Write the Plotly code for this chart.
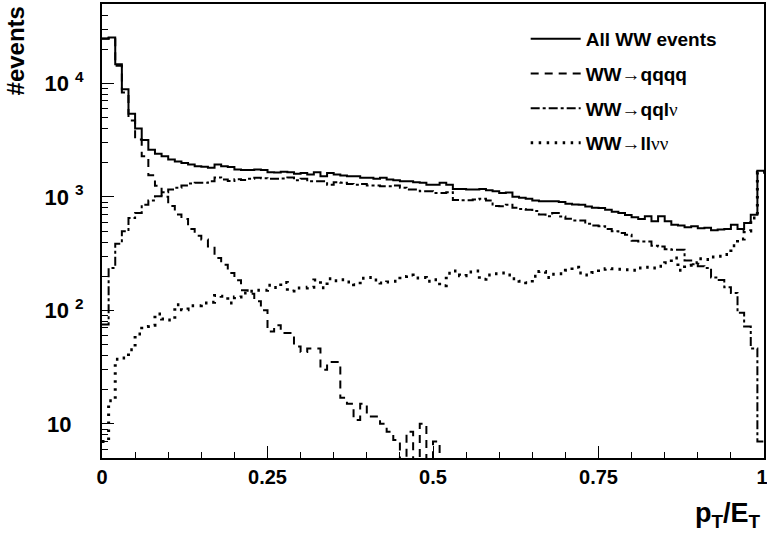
import numpy as np
import plotly.graph_objects as go

# ---------------- data (100 bins, 0..1) ----------------
n_bins = 100
bin_edges = np.linspace(0.0, 1.0, n_bins + 1)

all_ww = [24800, 25300, 14700, 8850, 5400, 3990, 3160, 2600, 2400, 2280,
          2130, 2050, 1990, 1930, 1860, 1840, 1800, 1930, 1860, 1830,
          1740, 1720, 1720, 1740, 1720, 1650, 1640, 1660, 1650, 1600,
          1625, 1570, 1650, 1520, 1625, 1570, 1545, 1520, 1520, 1470,
          1470, 1440, 1470, 1420, 1400, 1370, 1370, 1345, 1330, 1280,
          1280, 1330, 1280, 1175, 1175, 1160, 1160, 1175, 1140, 1120,
          1083, 1090, 1000, 980, 960, 930, 914, 914, 914, 900,
          870, 855, 850, 820, 800, 799, 770, 740, 722, 690,
          660, 639, 674, 610, 674, 610, 569, 560, 540, 550,
          530, 535, 507, 515, 520, 569, 520, 589, 697, 1700]

ww_qqqq = [24700, 25050, 14280, 8315, 4700, 3200, 2280, 1550, 1250, 1000,
           830, 700, 639, 521, 455, 420, 366, 289, 252, 213,
           184, 150, 140, 120, 100, 65, 74, 63, 63, 48,
           43, 46, 46, 30, 35, 35, 17, 15, 10.8, 15,
           11.6, 11.6, 10, 8.5, 7.2, 1, 8.5, 1, 10, 1,
           7, 1] + [None] * 48

ww_qqlv = [75, 236, 386, 497, 650, 720, 850, 930, 1010, 1100,
           1160, 1200, 1260, 1310, 1330, 1330, 1370, 1480, 1420, 1380,
           1430, 1410, 1440, 1470, 1460, 1440, 1440, 1450, 1480, 1400,
           1440, 1370, 1370, 1370, 1280, 1345, 1330, 1300, 1280, 1300,
           1260, 1260, 1240, 1240, 1260, 1200, 1160, 1160, 1120, 1120,
           1083, 1083, 1100, 940, 933, 933, 946, 960, 930, 830,
           826, 850, 800, 780, 770, 750, 700, 674, 720, 670,
           640, 620, 620, 580, 560, 550, 520, 497, 480, 464,
           410, 405, 405, 370, 366, 345, 342, 342, 275, 255,
           245, 236, 195, 185, 160, 142, 95, 72, 46, 7]

ww_llvv = [7, 16, 37, 38, 45, 62, 72, 74, 93, 84,
           82, 112, 101, 110, 110, 116, 118, 135, 133, 116,
           131, 142, 147, 150, 150, 166, 159, 176, 148, 157,
           157, 160, 185, 158, 190, 182, 186, 178, 168, 192,
           195, 185, 174, 178, 180, 199, 205, 193, 195, 180,
           186, 165, 212, 222, 202, 218, 222, 188, 205, 210,
           213, 205, 190, 180, 175, 200, 220, 195, 208, 210,
           225, 240, 213, 205, 215, 230, 233, 232, 230, 228,
           225, 236, 240, 236, 245, 262, 289, 225, 250, 262,
           285, 280, 295, 300, 310, 370, 425, 500, 650, 1650]

SYM = "<span style=\"font-family:'Liberation Serif';font-weight:normal\">"
series_names = [
    "All WW events",
    "WW" + SYM + "\u2192</span>qqqq",
    "WW" + SYM + "\u2192</span>qql" + SYM + "\u03bd</span>",
    "WW" + SYM + "\u2192</span>ll" + SYM + "\u03bd\u03bd</span>",
]

x_tick_vals = [0, 0.25, 0.5, 0.75, 1]
x_tick_text = ["0", "0.25", "0.5", "0.75", "1\u2009"]
x_minor_vals = [0.05, 0.1, 0.15, 0.2, 0.3, 0.35, 0.4, 0.45, 0.55, 0.6, 0.65, 0.7,
                0.8, 0.85, 0.9, 0.95]
y_tick_vals = [10, 100, 1000, 10000]
y_tick_text = ["10\u00a0\u00a0", "10 <sup>2</sup>", "10 <sup>3</sup>", "10 <sup>4</sup>"]
y_minor_vals = [6, 7, 8, 9, 20, 30, 40, 50, 60, 70, 80, 90,
                200, 300, 400, 500, 600, 700, 800, 900,
                2000, 3000, 4000, 5000, 6000, 7000, 8000, 9000,
                20000, 30000, 40000]

FONT = "Liberation Sans"

def step_y(vals):
    return list(vals) + [vals[-1]]

fig = go.Figure()
dashes = ["solid", "8px,6px", "9px,3px,3px,3px", "2.5px,5.5px"]
widths = [2, 2, 2, 3]
for name, vals, dash, w in zip(series_names, [all_ww, ww_qqqq, ww_qqlv, ww_llvv], dashes, widths):
    fig.add_trace(go.Scatter(
        x=bin_edges, y=step_y(vals), mode="lines", name=name,
        line=dict(color="black", width=w, shape="hv", dash=dash, simplify=False),
        legendgroup=name, connectgaps=False, hoverinfo="skip",
    ))

fig.update_layout(
    width=767, height=535,
    margin=dict(l=102, r=3, t=4, b=77, autoexpand=False),
    plot_bgcolor="white", paper_bgcolor="white",
    font=dict(family=FONT, color="black"),
    legend=dict(
        x=0.64, y=0.965, xanchor="left", yanchor="top",
        bgcolor="rgba(0,0,0,0)", borderwidth=0,
        font=dict(family=FONT, size=19, weight="bold", color="black"),
        traceorder="grouped", tracegroupgap=7, itemwidth=50,
    ),
    xaxis=dict(
        range=[0, 1], tickvals=x_tick_vals, ticktext=x_tick_text,
        ticks="inside", ticklen=12, tickwidth=1, tickcolor="black",
        showline=True, linecolor="black", linewidth=2, mirror=True,
        showgrid=False, zeroline=False, automargin=False,
        ticklabeloverflow="allow",
        tickfont=dict(family=FONT, size=20, weight="bold", color="black"),
        ticklabelstandoff=0,
        minor=dict(tickvals=x_minor_vals, ticks="inside", ticklen=6,
                   tickwidth=1, tickcolor="black", showgrid=False),
    ),
    yaxis=dict(
        type="log", range=[np.log10(5), np.log10(50000)],
        tickvals=y_tick_vals, ticktext=y_tick_text,
        ticks="inside", ticklen=12, tickwidth=1, tickcolor="black",
        showline=True, linecolor="black", linewidth=2, mirror=True,
        showgrid=False, zeroline=False, automargin=False,
        ticklabeloverflow="allow",
        tickfont=dict(family=FONT, size=22, weight="bold", color="black"),
        ticklabelstandoff=12,
        minor=dict(tickvals=y_minor_vals, ticks="inside", ticklen=6,
                   tickwidth=1, tickcolor="black", showgrid=False),
    ),
    annotations=[
        dict(text="#events", textangle=-90, xref="paper", yref="paper",
             x=-0.13, y=1.0, xanchor="center", yanchor="top", showarrow=False,
             font=dict(family=FONT, size=24, weight="bold", color="black")),
        dict(text="p<sub>T</sub>/E<sub>T</sub>", xref="paper", yref="paper",
             x=0.998, y=-0.125, xanchor="right", yanchor="middle", showarrow=False,
             font=dict(family=FONT, size=27, weight="bold", color="black")),
    ],
)

fig.write_html("out.html", config={"displayModeBar": False},
               post_script="document.body.style.margin='0px';")
